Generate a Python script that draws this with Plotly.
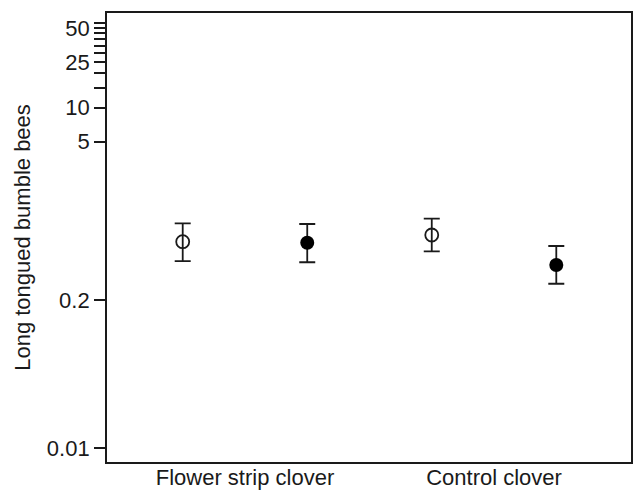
import plotly.graph_objects as go

# Data
groups = ["Flower strip clover", "Control clover"]
group_pos = [1.5, 3.5]
open_x = [1, 3]
open_mean = [0.657, 0.753]
open_upper = [0.954, 1.048]
open_lower = [0.444, 0.541]
filled_x = [2, 4]
filled_mean = [0.644, 0.410]
filled_upper = [0.941, 0.602]
filled_lower = [0.433, 0.280]

y_tickvals = [0.01, 0.2, 5, 10, 15, 20, 25, 30, 35, 40, 45, 50, 55]
y_ticktext = ["0.01", "0.2", "5", "10", "", "", "25", "", "", "", "", "50", ""]

FONT = "Liberation Sans, Arial, sans-serif"
INK = "#1a1a1a"
FS = 22

def err(mean, up, lo):
    return dict(type="data", symmetric=False,
                array=[u - m for u, m in zip(up, mean)],
                arrayminus=[m - l for m, l in zip(mean, lo)],
                color=INK, thickness=1.8, width=8)

fig = go.Figure()
fig.add_trace(go.Scatter(
    x=open_x, y=open_mean, mode="markers",
    marker=dict(symbol="circle-open", size=13, color=INK, line=dict(width=1.8, color=INK)),
    error_y=err(open_mean, open_upper, open_lower), showlegend=False))
fig.add_trace(go.Scatter(
    x=filled_x, y=filled_mean, mode="markers",
    marker=dict(symbol="circle", size=14, color="black"),
    error_y=err(filled_mean, filled_upper, filled_lower), showlegend=False))

fig.update_layout(
    width=633, height=492,
    margin=dict(l=107, r=2, t=13, b=30, autoexpand=False),
    paper_bgcolor="white", plot_bgcolor="white",
    font=dict(family=FONT, size=FS, color=INK),
)
fig.update_xaxes(
    range=[0.392, 4.60], tickvals=group_pos, ticktext=groups,
    showgrid=False, zeroline=False, ticks="", automargin=False,
    ticklabelstandoff=-5,
    showline=True, linecolor=INK, linewidth=1.8, mirror=True,
    tickfont=dict(size=FS, family=FONT, color=INK),
)
fig.update_yaxes(
    type="log", range=[-2.1233, 1.8326],
    tickvals=y_tickvals, ticktext=y_ticktext, automargin=False,
    showgrid=False, zeroline=False, ticks="outside", ticklen=11, tickwidth=1.5,
    tickcolor=INK,
    showline=True, linecolor=INK, linewidth=1.8, mirror=True,
    tickfont=dict(size=FS, family=FONT, color=INK),
    title=dict(text="Long tongued bumble bees", font=dict(size=FS, family=FONT, color=INK), standoff=10),
)

fig.write_html("out.html")
